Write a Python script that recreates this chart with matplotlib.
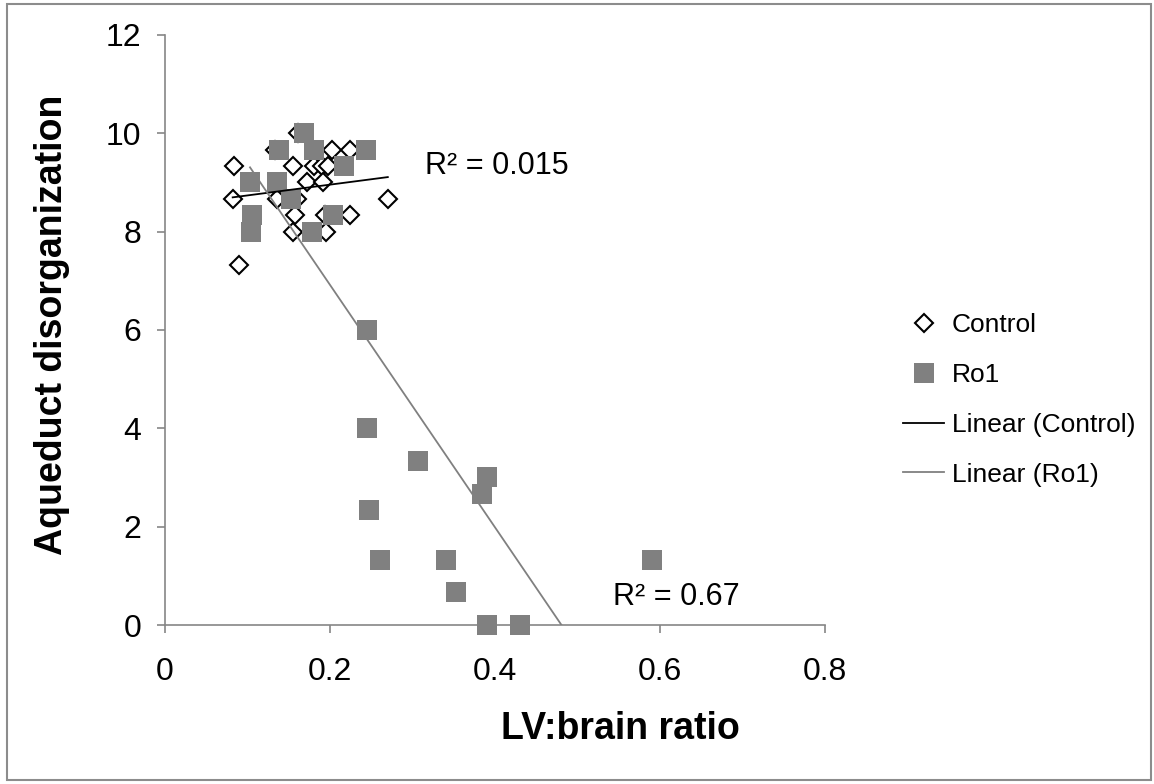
import matplotlib
matplotlib.use("Agg")
import matplotlib.pyplot as plt
import numpy as np
from matplotlib.patches import Rectangle

plt.rcParams["font.family"] = ["Liberation Sans", "DejaVu Sans"]

# LV:brain ratio vs aqueduct disorganization score
control_x = [0.084, 0.082, 0.090, 0.133, 0.161, 0.155, 0.180, 0.190, 0.198,
             0.202, 0.224, 0.172, 0.191, 0.136, 0.160, 0.270, 0.158, 0.194,
             0.224, 0.155, 0.195]
control_y = [9.33, 8.67, 7.33, 9.67, 10.0, 9.33, 9.33, 9.33, 9.33,
             9.67, 9.67, 9.0, 9.0, 8.67, 8.67, 8.67, 8.33, 8.33,
             8.33, 8.0, 8.0]

ro1_x = [0.103, 0.105, 0.104, 0.138, 0.136, 0.153, 0.168, 0.180, 0.178,
         0.204, 0.217, 0.244, 0.245, 0.245, 0.247, 0.260, 0.307, 0.340,
         0.353, 0.384, 0.390, 0.390, 0.430, 0.590]
ro1_y = [9.0, 8.33, 8.0, 9.67, 9.0, 8.67, 10.0, 9.67, 8.0,
         8.33, 9.33, 9.67, 6.0, 4.0, 2.33, 1.33, 3.33, 1.33,
         0.67, 2.67, 3.0, 0.0, 0.0, 1.33]

r2_labels = ["R² = 0.015", "R² = 0.67"]

GRAY = "#808080"
AXIS = "#868686"

fig = plt.figure(figsize=(11.54, 7.84), dpi=100)
ax = fig.add_axes([0.143, 0.2028, 0.572, 0.7526])

# markers may sit on the axis line, so don't clip them
ax.plot(control_x, control_y, ls="none", marker="D", ms=9.0, mfc="white",
        mec="black", mew=1.5, label="Control", zorder=3, clip_on=False)
ax.plot(ro1_x, ro1_y, ls="none", marker="s", ms=14.5, mfc=GRAY, mec=GRAY,
        mew=0, label="Ro1", zorder=4, clip_on=False)


def trend(xs, ys):
    xs, ys = np.asarray(xs), np.asarray(ys)
    k, b = np.polyfit(xs, ys, 1)
    gx = np.array([xs.min(), xs.max()])
    return gx, k * gx + b


cx, cy = trend(control_x, control_y)
rx, ry = trend(ro1_x, ro1_y)
ax.plot(cx, cy, color="black", lw=1.3, label="Linear (Control)", zorder=5)
ax.plot(rx, ry, color=GRAY, lw=1.3, label="Linear (Ro1)", zorder=5)

ax.text(0.315, 9.33, r2_labels[0], fontsize=22, va="center")
ax.text(0.543, 0.57, r2_labels[1], fontsize=22, va="center")

ax.set_xlim(0, 0.8)
ax.set_ylim(0, 12)
ax.set_xticks([0, 0.2, 0.4, 0.6, 0.8])
ax.set_xticklabels(["0", "0.2", "0.4", "0.6", "0.8"])
ax.set_yticks(range(0, 13, 2))
for side in ("top", "right"):
    ax.spines[side].set_visible(False)
for side in ("left", "bottom"):
    ax.spines[side].set_color(AXIS)
    ax.spines[side].set_linewidth(1.2)
ax.tick_params(axis="both", colors=AXIS, labelcolor="black", labelsize=23,
               length=6, width=1.2)
ax.tick_params(axis="x", pad=17)
ax.tick_params(axis="y", pad=11)

ax.set_xlabel("LV:brain ratio", fontsize=27, fontweight="bold")
ax.set_ylabel("Aqueduct disorganization", fontsize=27, fontweight="bold")
ax.xaxis.set_label_coords(0.69, -0.145)
ax.yaxis.set_label_coords(-0.144, 0.508)

fig.legend(loc="center left", bbox_to_anchor=(0.762, 0.49), frameon=False,
           fontsize=19, handlelength=1.55, handletextpad=0.3, labelspacing=0.98)

fig.patches.append(Rectangle((0.006, 0.005), 0.991, 0.99, transform=fig.transFigure,
                             fill=False, edgecolor="#8c8c8c", lw=1.5))

fig.savefig("out.png", dpi=100)
